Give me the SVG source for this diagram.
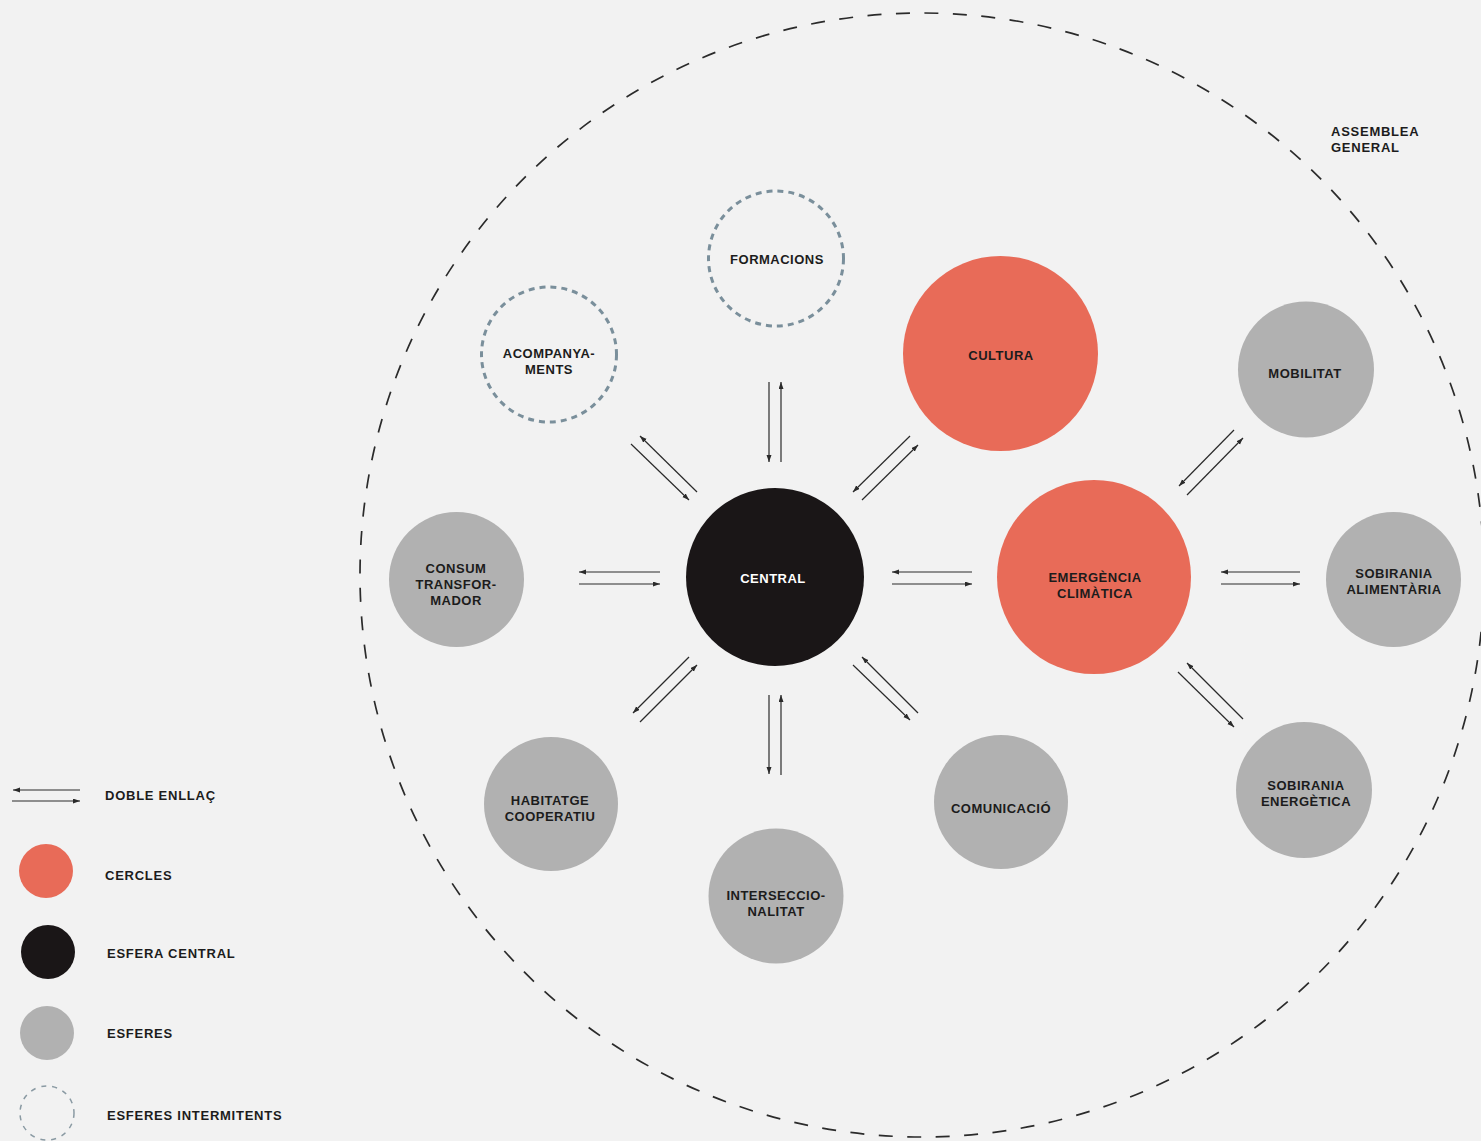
<svg xmlns="http://www.w3.org/2000/svg" width="1481" height="1141" viewBox="0 0 1481 1141">
<defs>
<marker id="ah" markerUnits="userSpaceOnUse" markerWidth="8" markerHeight="6" refX="7" refY="2.5" orient="auto">
<path d="M0,0 L7,2.5 L0,5 z" fill="#2a2a2a"/>
</marker>
<style>
.t{font-family:"Liberation Sans",Arial,sans-serif;font-weight:bold;font-size:13px;letter-spacing:0.5px;fill:#1c1c1c;text-anchor:middle}
.lt{font-family:"Liberation Sans",Arial,sans-serif;font-weight:bold;font-size:13px;letter-spacing:0.75px;fill:#1c1c1c}
.red{fill:#e86b58}
.blk{fill:#1a1617}
.gry{fill:#b1b1b1}
.dsh{fill:none;stroke:#7a8f9b;stroke-width:3;stroke-dasharray:6 5}
.ln{stroke:#2a2a2a;stroke-width:1.2;marker-end:url(#ah)}
</style>
</defs>
<rect width="1481" height="1141" fill="#f2f2f2"/>

<g id="assemblea-general">
<circle cx="922" cy="575" r="562" fill="none" stroke="#2b2b2b" stroke-width="1.7" stroke-dasharray="14 14.5"/>
<text class="lt" x="1331" y="136">ASSEMBLEA</text>
<text class="lt" x="1331" y="152">GENERAL</text>
</g>

<g id="connectors">
<line class="ln" x1="769" y1="382" x2="769" y2="462"/>
<line class="ln" x1="781" y1="462" x2="781" y2="382"/>
<line class="ln" x1="769" y1="695" x2="769" y2="774"/>
<line class="ln" x1="781" y1="775" x2="781" y2="695"/>
<line class="ln" x1="660" y1="572" x2="579" y2="572"/>
<line class="ln" x1="579" y1="584" x2="660" y2="584"/>
<line class="ln" x1="972" y1="572" x2="892" y2="572"/>
<line class="ln" x1="892" y1="584" x2="972" y2="584"/>
<line class="ln" x1="631" y1="444" x2="689" y2="500"/>
<line class="ln" x1="697" y1="492" x2="640" y2="436"/>
<line class="ln" x1="910" y1="436" x2="853" y2="492"/>
<line class="ln" x1="862" y1="500" x2="918" y2="445"/>
<line class="ln" x1="689" y1="657" x2="633" y2="713"/>
<line class="ln" x1="640" y1="722" x2="697" y2="665"/>
<line class="ln" x1="853" y1="665" x2="910" y2="720"/>
<line class="ln" x1="918" y1="713" x2="862" y2="657"/>
<line class="ln" x1="1234" y1="430" x2="1179" y2="486"/>
<line class="ln" x1="1187" y1="495" x2="1243" y2="438"/>
<line class="ln" x1="1300" y1="572" x2="1221" y2="572"/>
<line class="ln" x1="1221" y1="584" x2="1300" y2="584"/>
<line class="ln" x1="1243" y1="719" x2="1187" y2="663"/>
<line class="ln" x1="1178" y1="672" x2="1234" y2="727"/>
</g>

<g id="central">
<circle class="blk" cx="775" cy="577" r="89"/>
<text class="t" x="773" y="583" style="fill:#ffffff">CENTRAL</text>
</g>
<g id="cultura">
<circle class="red" cx="1000.5" cy="353.5" r="97.5"/>
<text class="t" x="1001" y="360">CULTURA</text>
</g>
<g id="emergencia-climatica">
<circle class="red" cx="1094" cy="577" r="97"/>
<text class="t" x="1095" y="582">EMERGÈNCIA</text>
<text class="t" x="1095" y="598">CLIMÀTICA</text>
</g>
<g id="mobilitat">
<circle class="gry" cx="1306" cy="369.5" r="68"/>
<text class="t" x="1305" y="378">MOBILITAT</text>
</g>
<g id="sobirania-alimentaria">
<circle class="gry" cx="1393.5" cy="579.5" r="67.5"/>
<text class="t" x="1394" y="578">SOBIRANIA</text>
<text class="t" x="1394" y="594">ALIMENTÀRIA</text>
</g>
<g id="sobirania-energetica">
<circle class="gry" cx="1304" cy="790" r="68"/>
<text class="t" x="1306" y="790">SOBIRANIA</text>
<text class="t" x="1306" y="806">ENERGÈTICA</text>
</g>
<g id="comunicacio">
<circle class="gry" cx="1001" cy="802" r="67"/>
<text class="t" x="1001" y="813">COMUNICACIÓ</text>
</g>
<g id="interseccionalitat">
<circle class="gry" cx="776" cy="896" r="67.5"/>
<text class="t" x="776" y="900">INTERSECCIO-</text>
<text class="t" x="776" y="916">NALITAT</text>
</g>
<g id="habitatge-cooperatiu">
<circle class="gry" cx="551" cy="804" r="67"/>
<text class="t" x="550" y="805">HABITATGE</text>
<text class="t" x="550" y="821">COOPERATIU</text>
</g>
<g id="consum-transformador">
<circle class="gry" cx="456.5" cy="579.5" r="67.5"/>
<text class="t" x="456" y="573">CONSUM</text>
<text class="t" x="456" y="589">TRANSFOR-</text>
<text class="t" x="456" y="605">MADOR</text>
</g>
<g id="acompanyaments">
<circle class="dsh" cx="549" cy="354.5" r="67.5"/>
<text class="t" x="549" y="358">ACOMPANYA-</text>
<text class="t" x="549" y="374">MENTS</text>
</g>
<g id="formacions">
<circle class="dsh" cx="776" cy="258.5" r="67.5"/>
<text class="t" x="777" y="264">FORMACIONS</text>
</g>

<g id="legend">
<line class="ln" x1="80" y1="790" x2="13" y2="790"/>
<line class="ln" x1="12" y1="801" x2="80" y2="801"/>
<text class="lt" x="105" y="800">DOBLE ENLLAÇ</text>
<circle class="red" cx="46" cy="871" r="27"/>
<text class="lt" x="105" y="880">CERCLES</text>
<circle class="blk" cx="48" cy="952" r="27"/>
<text class="lt" x="107" y="958">ESFERA CENTRAL</text>
<circle class="gry" cx="47" cy="1033" r="27"/>
<text class="lt" x="107" y="1038">ESFERES</text>
<circle cx="47" cy="1113" r="27" fill="none" stroke="#8a9aa3" stroke-width="1.5" stroke-dasharray="5 6"/>
<text class="lt" x="107" y="1120">ESFERES INTERMITENTS</text>
</g>
</svg>
